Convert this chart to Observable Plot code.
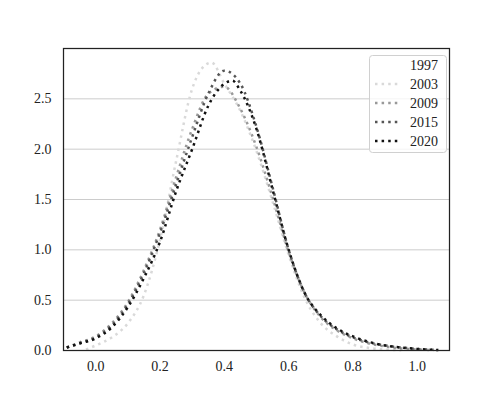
<!DOCTYPE html>
<html>
<head>
<meta charset="utf-8">
<script src="https://cdn.jsdelivr.net/npm/d3@7"></script>
<script src="https://cdn.jsdelivr.net/npm/@observablehq/plot@0.6"></script>
<style>
  html, body { margin: 0; padding: 0; background: #fff; }
  #chart { width: 500px; height: 400px; }
</style>
</head>
<body>
<div id="chart"></div>
<script>
// Series names and colours
const years = ["1997", "2003", "2009", "2015", "2020"];
const colors = ["#ffffff", "#d9d9d9", "#999999", "#555555", "#111111"];

// Density curves (x, density)
const x1997 = [];
const y1997 = [];

const x2003 = [-0.03, 0.0, 0.05, 0.10, 0.15, 0.20, 0.25, 0.30, 0.33, 0.36, 0.40, 0.45, 0.50, 0.55, 0.60, 0.65, 0.70, 0.75, 0.80, 0.85, 0.90, 0.95];
const y2003 = [0.01, 0.05, 0.13, 0.27, 0.55, 1.10, 1.88, 2.60, 2.80, 2.86, 2.65, 2.38, 1.98, 1.48, 0.95, 0.52, 0.27, 0.14, 0.06, 0.025, 0.01, 0.003];

const x2009 = [-0.09, -0.05, 0.0, 0.05, 0.10, 0.15, 0.20, 0.25, 0.30, 0.35, 0.40, 0.45, 0.50, 0.55, 0.60, 0.65, 0.70, 0.75, 0.80, 0.85, 0.90, 0.95, 1.0, 1.05];
const y2009 = [0.03, 0.08, 0.14, 0.27, 0.48, 0.80, 1.20, 1.72, 2.20, 2.55, 2.62, 2.40, 2.02, 1.52, 0.98, 0.57, 0.33, 0.20, 0.12, 0.07, 0.04, 0.02, 0.01, 0.004];

const x2015 = [-0.09, -0.05, 0.0, 0.05, 0.10, 0.15, 0.20, 0.25, 0.30, 0.35, 0.40, 0.45, 0.50, 0.55, 0.60, 0.65, 0.70, 0.75, 0.80, 0.85, 0.90, 0.95, 1.0, 1.065];
const y2015 = [0.03, 0.07, 0.13, 0.25, 0.46, 0.77, 1.17, 1.65, 2.12, 2.55, 2.78, 2.65, 2.22, 1.62, 1.00, 0.57, 0.34, 0.21, 0.13, 0.08, 0.05, 0.03, 0.015, 0.005];

const x2020 = [-0.09, -0.05, 0.0, 0.05, 0.10, 0.15, 0.20, 0.25, 0.30, 0.35, 0.40, 0.425, 0.45, 0.50, 0.55, 0.60, 0.65, 0.70, 0.75, 0.80, 0.85, 0.90, 0.95, 1.0, 1.065];
const y2020 = [0.03, 0.07, 0.12, 0.23, 0.43, 0.72, 1.08, 1.58, 2.00, 2.43, 2.65, 2.68, 2.58, 2.20, 1.60, 1.00, 0.57, 0.35, 0.22, 0.14, 0.085, 0.05, 0.03, 0.015, 0.005];

// Axis ticks
const xTicks = [0.0, 0.2, 0.4, 0.6, 0.8, 1.0];
const yTicks = [0.0, 0.5, 1.0, 1.5, 2.0, 2.5];

const seriesX = [x1997, x2003, x2009, x2015, x2020];
const seriesY = [y1997, y2003, y2009, y2015, y2020];
const rows = years.flatMap((yr, i) => seriesX[i].map((x, j) => ({year: yr, x, y: seriesY[i][j]})));

const FONT = "Liberation Serif";
const dash = "2.5,4.1";

const plot = Plot.plot({
  width: 500,
  height: 400,
  marginLeft: 63,
  marginRight: 51,
  marginTop: 48,
  marginBottom: 50,
  style: { fontFamily: FONT, fontSize: "14px", color: "#222", background: "#fff" },
  x: { domain: [-0.1, 1.1] },
  y: { domain: [0, 3.0] },
  color: { domain: years, range: colors },
  marks: [
    Plot.gridY(yTicks, { stroke: "#cccccc", strokeOpacity: 1, strokeWidth: 1 }),
    Plot.line(rows, {
      x: "x", y: "y", z: "year", stroke: "year",
      strokeWidth: 2.5, strokeDasharray: dash, strokeLinecap: "butt",
      curve: "monotone-x"
    }),
    Plot.axisX(xTicks, { tickSize: 0, tickPadding: 11, tickFormat: d3.format(".1f"), label: null }),
    Plot.axisY(yTicks, { tickSize: 0, tickPadding: 12, tickFormat: d3.format(".1f"), label: null }),
    Plot.frame({ stroke: "#222", strokeWidth: 1.25 })
  ]
});

document.getElementById("chart").appendChild(plot);

// Legend (top right, inside the axes)
const svg = d3.select(plot);
const lg = svg.append("g");
lg.append("rect")
  .attr("x", 369.5).attr("y", 55.5).attr("width", 77).attr("height", 97)
  .attr("rx", 3).attr("fill", "#fff").attr("fill-opacity", 0.8)
  .attr("stroke", "#d0d0d0").attr("stroke-width", 1);
years.forEach((yr, i) => {
  const cy = 65 + i * 19;
  lg.append("line")
    .attr("x1", 375).attr("x2", 401).attr("y1", cy).attr("y2", cy)
    .attr("stroke", colors[i]).attr("stroke-width", 2.5)
    .attr("stroke-dasharray", dash);
  lg.append("text")
    .attr("x", 438).attr("y", cy).attr("dy", "0.35em")
    .attr("text-anchor", "end")
    .attr("font-family", FONT).attr("font-size", 14).attr("fill", "#222")
    .text(yr);
});
</script>
</body>
</html>
